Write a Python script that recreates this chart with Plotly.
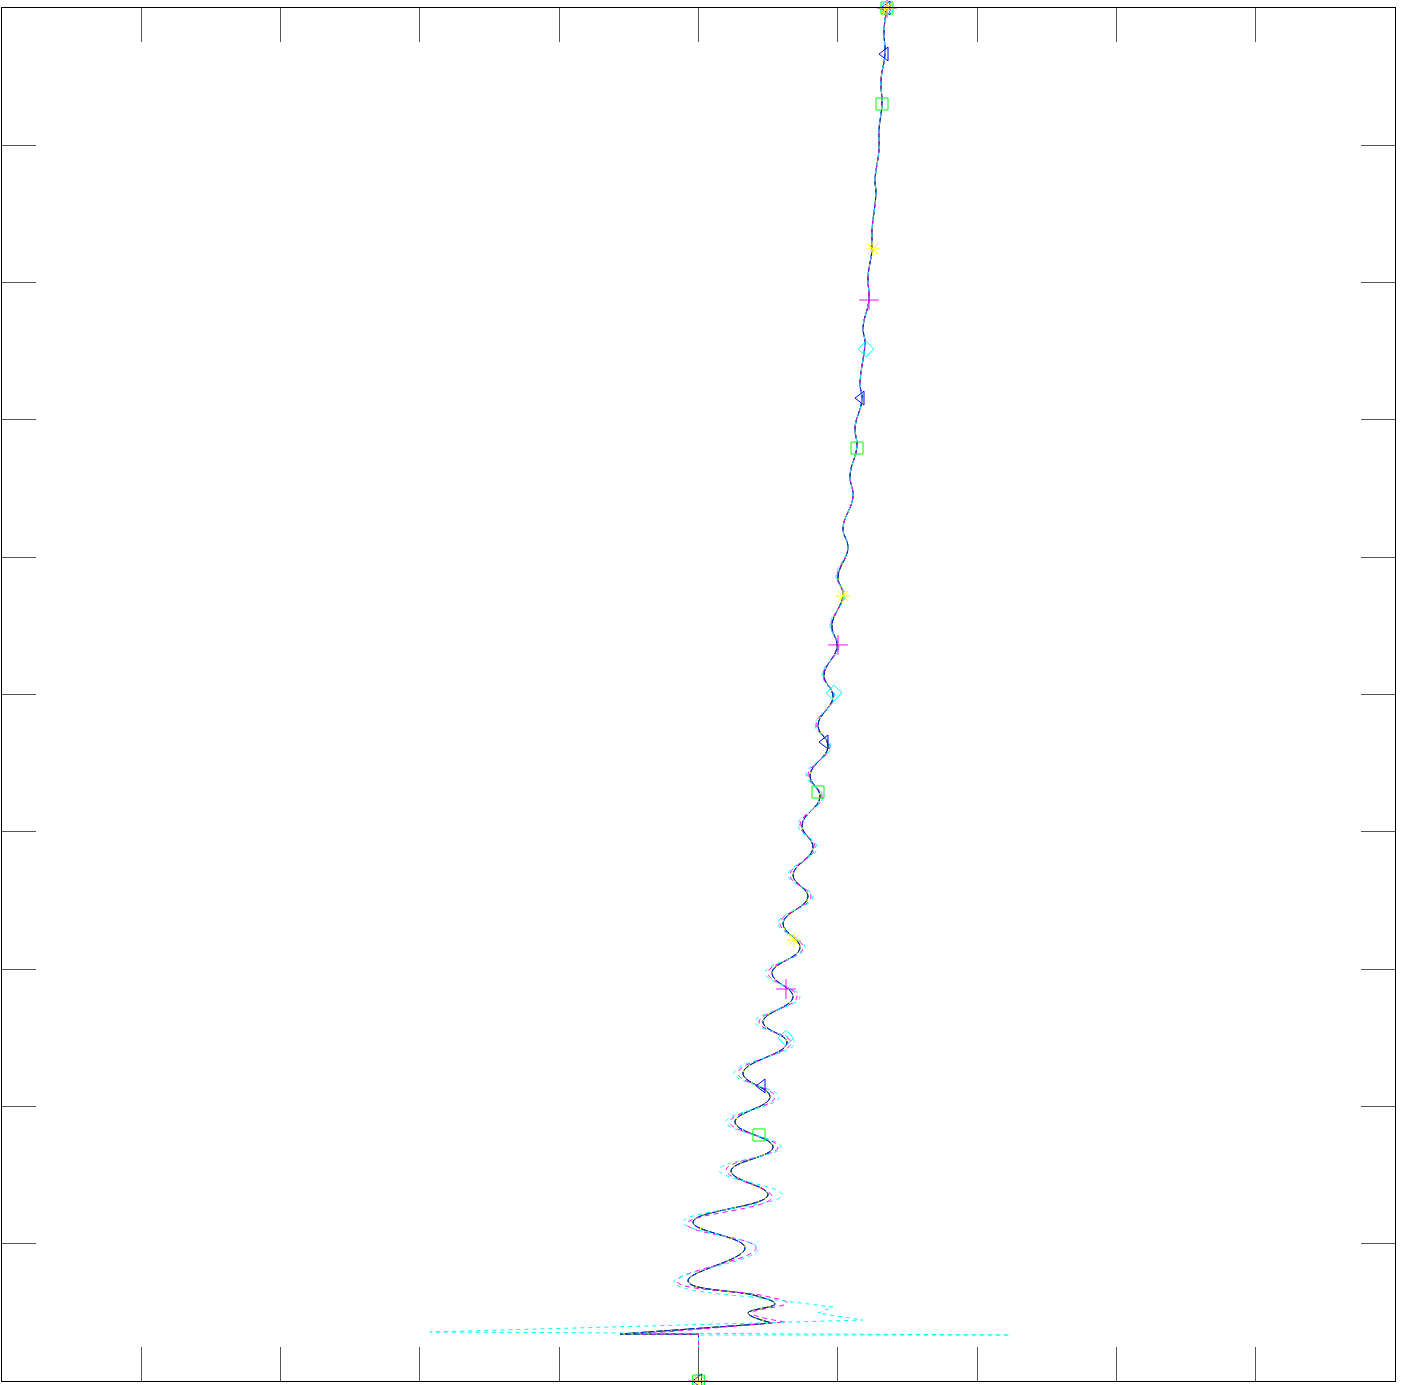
import plotly.graph_objects as go

# ---- data ----
# base profile (black / green / blue / yellow series)
base_x = [0.0, 0.0, -1.127, 1.055, 0.711, 1.098, 0.840, -0.151, 0.668, -0.079,
          0.998, 0.467, 1.070, 0.524, 1.027, 0.639, 1.271, 0.926, 1.357, 1.055,
          1.457, 1.213, 1.572, 1.357, 1.644, 1.486, 1.745, 1.601, 1.860, 1.716,
          1.931, 1.802, 1.989, 1.917, 2.075, 2.003,
          2.146, 2.075, 2.218, 2.175, 2.276, 2.247, 2.348, 2.319, 2.390, 2.362,
          2.448, 2.433, 2.491, 2.491, 2.548, 2.534, 2.591, 2.591, 2.634, 2.620,
          2.678, 2.663, 2.706]
base_y = [0.0, 0.342, 0.342, 0.422, 0.495, 0.561, 0.619, 0.728, 0.969, 1.158,
          1.355, 1.529, 1.704, 1.886, 2.068, 2.243, 2.462, 2.615, 2.797, 2.972,
          3.154, 3.336, 3.525, 3.685, 3.882, 4.050, 4.253, 4.414, 4.618, 4.778,
          4.982, 5.142, 5.346, 5.506, 5.725, 5.856,
          6.067, 6.213, 6.438, 6.599, 6.803, 6.948, 7.145, 7.269, 7.560, 7.677,
          7.873, 8.041, 8.237, 8.383, 8.652, 8.747, 8.966, 9.111, 9.301, 9.476,
          9.665, 9.840, 10.0]
UPPER_START = 36  # index where all series coincide

# magenta series, lower part
mag_low_x = [0.0, 0.0, -0.840, 1.242, 0.768, 1.271, 0.955, -0.309, 0.826, -0.165,
             1.055, 0.395, 1.141, 0.452, 1.098, 0.567, 1.328, 0.869, 1.414, 0.998,
             1.500, 1.170, 1.615, 1.314, 1.673, 1.457, 1.773, 1.572, 1.888, 1.687,
             1.946, 1.788, 2.003, 1.902, 2.089, 1.989]
mag_low_y = [0.0, 0.342, 0.342, 0.430, 0.495, 0.568, 0.619, 0.728, 0.969, 1.143,
             1.340, 1.537, 1.704, 1.886, 2.068, 2.243, 2.462, 2.615, 2.797, 2.972,
             3.154, 3.336, 3.525, 3.685, 3.882, 4.050, 4.253, 4.414, 4.618, 4.778,
             4.982, 5.142, 5.346, 5.506, 5.725, 5.856]

# cyan series, lower part
cyan_low_x = [0.0, 0.0, 4.473, -3.855, 2.362, 1.716, 1.931, 0.768, -0.352, 0.854,
              -0.223, 1.199, 0.294, 1.185, 0.395, 1.156, 0.510, 1.386, 0.811, 1.457,
              0.955, 1.529, 1.141, 1.644, 1.285, 1.701, 1.429, 1.788, 1.544, 1.902,
              1.673, 1.960, 1.773, 2.017, 1.888, 2.103, 1.974]
cyan_low_y = [0.0, 0.335, 0.335, 0.357, 0.444, 0.495, 0.539, 0.612, 0.721, 0.961,
              1.158, 1.355, 1.537, 1.704, 1.886, 2.068, 2.243, 2.462, 2.615, 2.797,
              2.972, 3.154, 3.336, 3.525, 3.685, 3.882, 4.050, 4.253, 4.414, 4.618,
              4.778, 4.982, 5.142, 5.346, 5.506, 5.725, 5.856]

# marker positions
sq_x = [0.0, 0.869, 1.716, 2.276, 2.635, 2.706]
sq_y = [0.0, 1.792, 4.290, 6.795, 9.301, 10.0]
tri_x = [0.0, 0.912, 1.816, 2.333, 2.678, 2.706]
tri_y = [0.0, 2.149, 4.654, 7.159, 9.665, 10.0]
dia_x = [0.0, 1.256, 1.946, 2.405, 2.706]
dia_y = [0.0, 2.498, 5.011, 7.516, 10.0]
plus_x = [0.0, 1.256, 2.003, 2.448, 2.706]
plus_y = [0.0, 2.855, 5.361, 7.873, 10.0]
ast_x = [0.0, 1.371, 2.075, 2.505, 2.706]
ast_y = [0.0, 3.212, 5.717, 8.245, 10.0]

x_ticks = [-10, -8, -6, -4, -2, 0, 2, 4, 6, 8, 10]
y_ticks = [0, 1, 2, 3, 4, 5, 6, 7, 8, 9, 10]

mag_x = mag_low_x + base_x[UPPER_START:]
mag_y = mag_low_y + base_y[UPPER_START:]
cyan_x = cyan_low_x + base_x[UPPER_START:]
cyan_y = cyan_low_y + base_y[UPPER_START:]

BLUE = "rgb(0,0,255)"
GREEN = "rgb(0,255,0)"
MAG = "rgb(255,0,255)"
CYAN = "rgb(0,255,255)"
YEL = "rgb(255,255,0)"

fig = go.Figure()
SM = 1.2


def series(x, y, color, dash, n_lin):
    """straight segments near the wall, smooth curve above"""
    fig.add_trace(go.Scatter(x=x[:n_lin + 1], y=y[:n_lin + 1], mode="lines",
                             line=dict(color=color, width=1, dash=dash)))
    fig.add_trace(go.Scatter(x=x[n_lin:], y=y[n_lin:], mode="lines",
                             line=dict(color=color, width=1, dash=dash,
                                       shape="spline", smoothing=SM)))


series(base_x, base_y, "black", "solid", 3)
series(base_x, base_y, GREEN, "solid", 3)
series(base_x, base_y, BLUE, "solid", 3)
series(base_x, base_y, YEL, "2px,6px", 3)
series(mag_x, mag_y, MAG, "5px,4px", 3)
series(cyan_x, cyan_y, CYAN, "4px,4px", 7)


def mk(x, y, sym, col, size=12):
    fig.add_trace(go.Scatter(x=x, y=y, mode="markers", cliponaxis=False,
                             marker=dict(symbol=sym, size=size, color=col,
                                         line=dict(color=col, width=1))))


mk(sq_x, sq_y, "square-open", GREEN, 12)
mk(tri_x, tri_y, "triangle-left-open", BLUE, 12)
mk(dia_x, dia_y, "diamond-open", CYAN, 12)
mk(plus_x, plus_y, "cross-thin-open", MAG, 14)
mk(ast_x, ast_y, "asterisk-open", YEL, 12)

axis_common = dict(showgrid=False, zeroline=False, showticklabels=False,
                   ticks="inside", ticklen=34, tickwidth=1, tickcolor="#555555",
                   showline=True, linecolor="black", linewidth=1, mirror="ticks")
fig.update_xaxes(range=[-10, 10], tickvals=x_ticks, **axis_common)
fig.update_yaxes(range=[0, 10], tickvals=y_ticks, **axis_common)

fig.update_layout(width=1401, height=1385, showlegend=False, hovermode=False,
                  plot_bgcolor="white", paper_bgcolor="white",
                  margin=dict(l=2, r=6, t=8, b=4))

fig.write_html("out.html", config={"displayModeBar": False, "staticPlot": True},
               post_script="document.body.style.margin='0';document.body.style.overflow='hidden';")
